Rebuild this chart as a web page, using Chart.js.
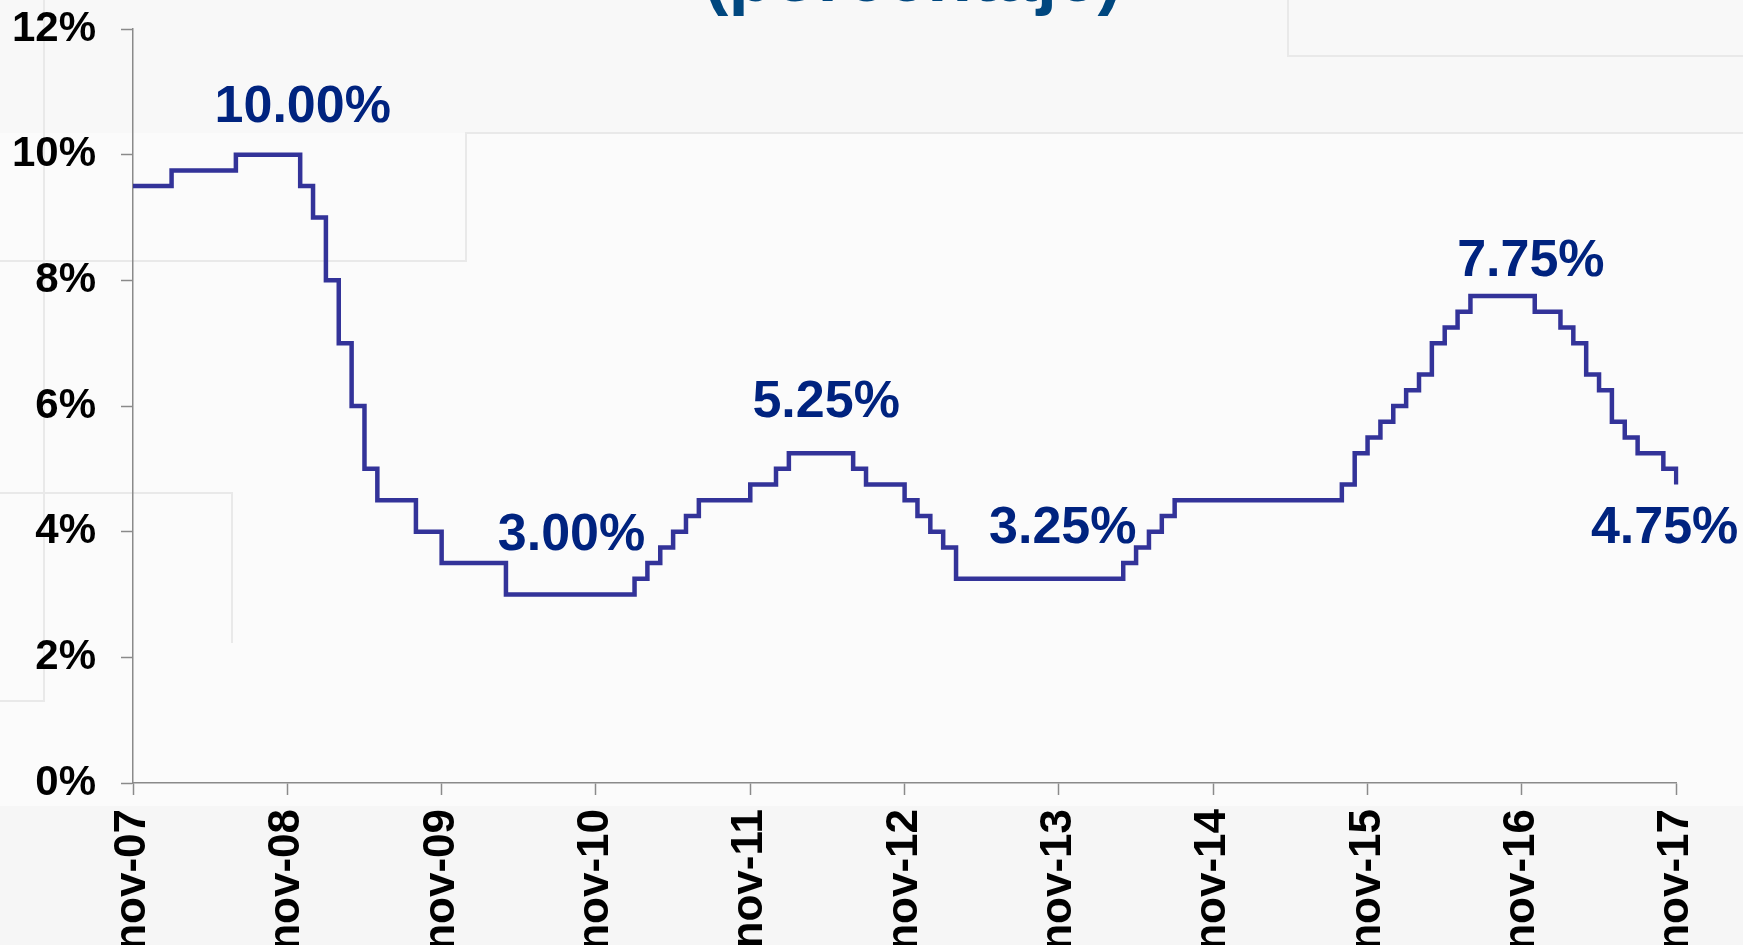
<!DOCTYPE html>
<html>
<head>
<meta charset="utf-8">
<title>Tasa de intervención</title>
<script src="https://cdn.jsdelivr.net/npm/chart.js@4.4.1/dist/chart.umd.min.js"></script>
<style>
  html, body { margin: 0; padding: 0; background: #fbfbfb; overflow: hidden; }
  canvas { display: block; }
</style>
</head>
<body>
<canvas id="myChart" width="1743" height="945"></canvas>
<script>
// month names used for the category axis (series starts nov-07, monthly)
var MONTHS = ['nov', 'dic', 'ene', 'feb', 'mar', 'abr', 'may', 'jun', 'jul', 'ago', 'sep', 'oct'];
var START_YEAR = 7;
var N_MONTHS = 121;

// policy rate (%), one value per month, nov-07 .. nov-17
var rate = [
    9.5, 9.5, 9.5,                                   // nov-07 .. ene-08
    9.75, 9.75, 9.75, 9.75, 9.75,                    // feb-08 .. jun-08
    10, 10, 10, 10, 10,                              // jul-08 .. nov-08
    9.5, 9, 8, 7, 6, 5,                              // dic-08 .. may-09
    4.5, 4.5, 4.5, 4, 4,                             // jun-09 .. oct-09
    3.5, 3.5, 3.5, 3.5, 3.5,                         // nov-09 .. mar-10
    3, 3, 3, 3, 3, 3, 3, 3, 3, 3,                    // abr-10 .. ene-11
    3.25, 3.5, 3.75, 4, 4.25,                        // feb-11 .. jun-11
    4.5, 4.5, 4.5, 4.5, 4.75, 4.75, 5,               // jul-11 .. ene-12
    5.25, 5.25, 5.25, 5.25, 5.25,                    // feb-12 .. jun-12
    5, 4.75, 4.75, 4.75, 4.5, 4.25, 4, 3.75,         // jul-12 .. feb-13
    3.25, 3.25, 3.25, 3.25, 3.25, 3.25, 3.25,        // mar-13 .. sep-13
    3.25, 3.25, 3.25, 3.25, 3.25, 3.25,              // oct-13 .. mar-14
    3.5, 3.75, 4, 4.25,                              // abr-14 .. jul-14
    4.5, 4.5, 4.5, 4.5, 4.5, 4.5, 4.5,               // ago-14 .. feb-15
    4.5, 4.5, 4.5, 4.5, 4.5, 4.5,                    // mar-15 .. ago-15
    4.75, 5.25, 5.5, 5.75, 6, 6.25, 6.5, 7, 7.25, 7.5, // sep-15 .. jun-16
    7.75, 7.75, 7.75, 7.75, 7.75,                    // jul-16 .. nov-16
    7.5, 7.5, 7.25, 7, 6.5, 6.25, 5.75, 5.5,         // dic-16 .. jul-17
    5.25, 5.25, 5, 4.75                              // ago-17 .. nov-17
];

// y axis ticks
var yTicks = [0, 2, 4, 6, 8, 10, 12];

// value labels: text, month index and value where the label sits
var callouts = [
    { text: '10.00%', at: 13.2, value: 10.82 },
    { text: '3.00%', at: 34.1, value: 4.01 },
    { text: '5.25%', at: 53.9, value: 6.12 },
    { text: '3.25%', at: 72.3, value: 4.11 },
    { text: '7.75%', at: 108.7, value: 8.36 },
    { text: '4.75%', at: 119.1, value: 4.11 }
];

var labels = [];
for (var i = 0; i < N_MONTHS; i++) {
    var mi = i % 12;
    var yr = START_YEAR + Math.floor((i + 10) / 12);
    labels.push(MONTHS[mi] + '-' + (yr < 10 ? '0' + yr : yr));
}

var FONT = '"Liberation Sans", Arial, sans-serif';

// faint slide background, and the clipped title at the top
var backdrop = {
    id: 'backdrop',
    beforeDraw: function(chart) {
        var c = chart.ctx;
        c.save();
        c.fillStyle = '#fbfbfb';
        c.fillRect(0, 0, chart.width, chart.height);
        c.fillStyle = '#f8f8f8';
        c.fillRect(0, 0, chart.width, 133);
        c.fillStyle = '#f6f6f6';
        c.fillRect(0, 806, chart.width, chart.height - 806);
        c.strokeStyle = '#e9e9e9';
        c.lineWidth = 2;
        c.beginPath();
        c.moveTo(1288, 0); c.lineTo(1288, 56); c.lineTo(chart.width, 56);
        c.moveTo(chart.width, 133); c.lineTo(466, 133); c.lineTo(466, 261); c.lineTo(0, 261);
        c.moveTo(44, 0); c.lineTo(44, 701); c.lineTo(0, 701);
        c.moveTo(0, 493); c.lineTo(232, 493); c.lineTo(232, 643);
        c.stroke();
        c.fillStyle = '#00477f';
        c.font = 'bold 73px ' + FONT;
        c.textAlign = 'center';
        c.textBaseline = 'alphabetic';
        c.fillText('(porcentaje)', 913, 1);
        c.restore();
    }
};

var callout = {
    id: 'callout',
    afterDatasetsDraw: function(chart) {
        var c = chart.ctx;
        var xs = chart.scales.x, ys = chart.scales.y;
        var size = 52;
        c.save();
        c.fillStyle = '#00237f';
        c.font = 'bold ' + size + 'px ' + FONT;
        c.textAlign = 'center';
        c.textBaseline = 'alphabetic';
        callouts.forEach(function(l) {
            var x = xs.getPixelForValue(l.at);
            var y = ys.getPixelForValue(l.value) + size * 0.358;
            c.fillText(l.text, x, y);
        });
        c.restore();
    }
};

function main() {
    var ctx = document.getElementById('myChart').getContext('2d');
    new Chart(ctx, {
        type: 'line',
        data: {
            labels: labels,
            datasets: [{
                data: rate,
                borderColor: '#333399',
                borderWidth: 4.5,
                pointRadius: 0,
                stepped: true,
                fill: false
            }]
        },
        options: {
            responsive: false,
            devicePixelRatio: 1,
            animation: false,
            layout: { padding: { top: 29, right: 66, bottom: 0, left: 0 } },
            plugins: {
                legend: { display: false },
                tooltip: { enabled: false }
            },
            scales: {
                x: {
                    type: 'category',
                    afterFit: function(s) { s.height = 162; },
                    grid: {
                        drawOnChartArea: false,
                        tickLength: 12,
                        tickWidth: 1.5,
                        tickColor: function(c) { return c.index % 12 === 0 ? '#8a8a8a' : 'rgba(0,0,0,0)'; }
                    },
                    border: { color: '#8a8a8a', width: 1.5 },
                    ticks: {
                        autoSkip: false,
                        minRotation: 90,
                        maxRotation: 90,
                        padding: 14,
                        color: '#000',
                        font: { family: FONT, size: 44, weight: 'bold' },
                        callback: function(v, i) { return i % 12 === 0 ? labels[i] : ''; }
                    }
                },
                y: {
                    min: 0,
                    max: 12,
                    afterFit: function(s) {
                        s.width = 133;
                        s.paddingTop = 0;
                        s.paddingBottom = 0;
                    },
                    afterBuildTicks: function(s) { s.ticks = yTicks.map(function(v) { return { value: v }; }); },
                    grid: { drawOnChartArea: false, tickLength: 12, tickWidth: 1.5, tickColor: '#8a8a8a' },
                    border: { color: '#8a8a8a', width: 1.5 },
                    ticks: {
                        padding: 25,
                        color: '#000',
                        font: { family: FONT, size: 42, weight: 'bold' },
                        callback: function(v) { return v + '%'; }
                    }
                }
            }
        },
        plugins: [backdrop, callout]
    });
}

document.addEventListener('DOMContentLoaded', main);
</script>
</body>
</html>
